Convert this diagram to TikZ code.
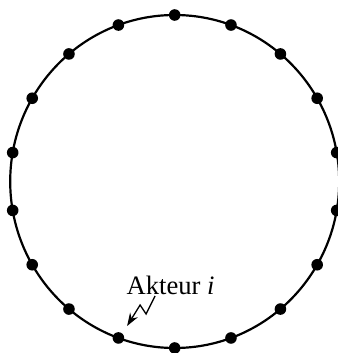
\documentclass[tikz,border=0pt]{standalone}
\usepackage{fontspec}
\setmainfont{Liberation Serif}
\usetikzlibrary{arrows.meta}

\begin{document}
\begin{tikzpicture}[x=0.5pt, y=0.5pt]
      \useasboundingbox (-174.7,-171.5) rectangle (162.3,181.5);
      % Ring
      \draw[line width=1.1pt] (0,0) ellipse [x radius=164.5, y radius=166.5];
      % Actors
      \foreach \k in {0,...,17} {
        \coordinate (a\k) at ({90+20*\k}:164.5 and 166.5);
        \fill (a\k) circle (2.9pt);
      }
      % Label
      \node[font=\fontsize{13.3}{15}\selectfont] (lbl) at (-4.1,-103.5) {Akteur \textit{i}};
      \coordinate (z0) at (-19.6,-114.5);
      \coordinate (z1) at (-28.6,-132.5);
      \coordinate (z2) at (-34.6,-123.5);
      \coordinate (z3) at (-47.6,-144.5);
      \draw[line width=0.65pt, -{Stealth[length=6.5pt, width=4.5pt]}] (z0) -- (z1) -- (z2) -- (z3);
    \end{tikzpicture}
\end{document}
